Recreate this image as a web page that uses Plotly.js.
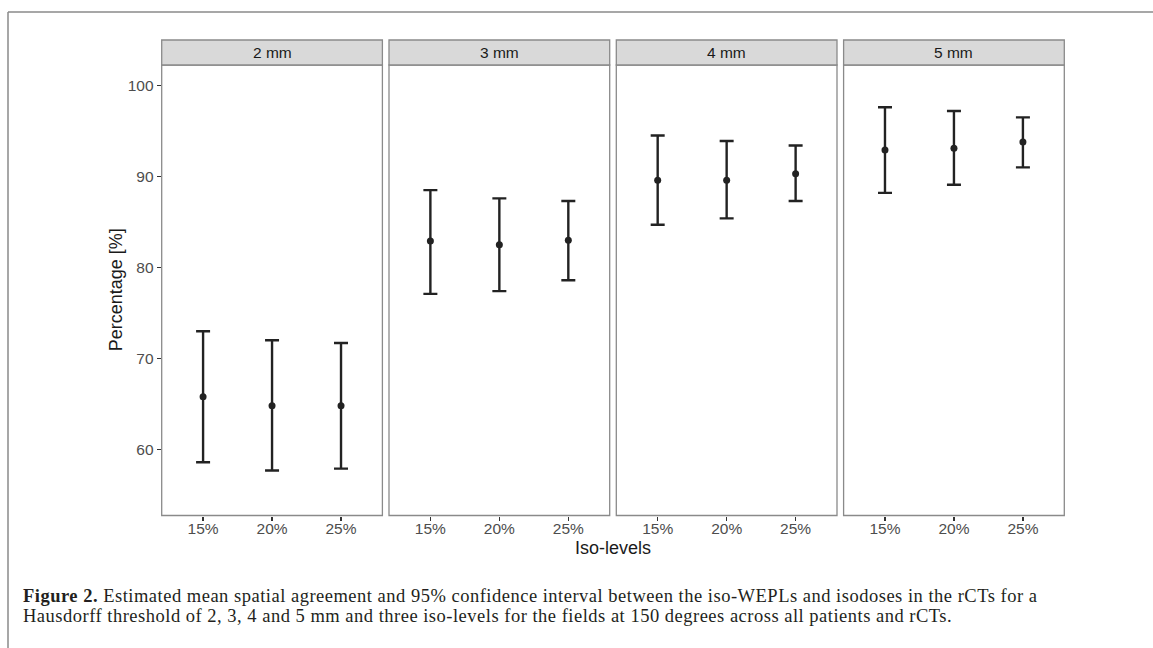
<!DOCTYPE html>
<html>
<head>
<meta charset="utf-8">
<script src="https://cdn.plot.ly/plotly-3.0.1.min.js"></script>
<style>
html,body{margin:0;padding:0;background:#fff;}
#chart{width:1153px;height:648px;}
</style>
</head>
<body>
<div id="chart"></div>
<script>
// ---- data ----
const panels = ["2 mm", "3 mm", "4 mm", "5 mm"];
const isoLevels = ["15%", "20%", "25%"];
const mean2mm = [65.8, 64.8, 64.8];
const lower2mm = [58.6, 57.7, 57.9];
const upper2mm = [73.0, 72.0, 71.7];
const mean3mm = [82.9, 82.5, 83.0];
const lower3mm = [77.1, 77.4, 78.6];
const upper3mm = [88.5, 87.6, 87.3];
const mean4mm = [89.6, 89.6, 90.3];
const lower4mm = [84.7, 85.4, 87.3];
const upper4mm = [94.5, 93.9, 93.4];
const mean5mm = [92.9, 93.1, 93.8];
const lower5mm = [88.2, 89.1, 91.0];
const upper5mm = [97.6, 97.2, 96.5];
const yTicks = [60, 70, 80, 90, 100];
const captionBold = "Figure 2.";
const captionLine1 = " Estimated mean spatial agreement and 95% confidence interval between the iso-WEPLs and isodoses in the rCTs for a";
const captionLine2 = "Hausdorff threshold of 2, 3, 4 and 5 mm and three iso-levels for the fields at 150 degrees across all patients and rCTs.";

const means = [mean2mm, mean3mm, mean4mm, mean5mm];
const lowers = [lower2mm, lower3mm, lower4mm, lower5mm];
const uppers = [upper2mm, upper3mm, upper4mm, upper5mm];

// ---- layout geometry (pixels) ----
const W = 1153, H = 648;
const panelLeft = [161.7, 389.0, 616.3, 843.6];
const panelW = 220.7;
const plotTop = 65, plotBottom = 515.5, stripTop = 40;
const px = v => v / W;
const py = v => 1 - v / H;

const barColor = "#222222";
const borderColor = "#8a8a8a";
const sans = "Liberation Sans, Arial, sans-serif";
const tickFont = {family: sans, size: 15.5, color: "#4d4d4d"};

const traces = panels.map((p, i) => ({
  type: "scatter",
  mode: "markers",
  x: isoLevels,
  y: means[i],
  xaxis: i === 0 ? "x" : "x" + (i + 1),
  yaxis: "y",
  marker: {color: barColor, size: 7},
  error_y: {
    type: "data",
    symmetric: false,
    array: uppers[i].map((u, k) => u - means[i][k]),
    arrayminus: lowers[i].map((l, k) => means[i][k] - l),
    color: barColor,
    thickness: 2.4,
    width: 7
  },
  showlegend: false,
  hoverinfo: "x+y"
}));

const layout = {
  width: W, height: H,
  margin: {l: 0, r: 0, t: 0, b: 0},
  paper_bgcolor: "#ffffff",
  plot_bgcolor: "#ffffff",
  showlegend: false,
  yaxis: {
    domain: [py(plotBottom), py(plotTop)],
    range: [52.75, 102.25],
    tickvals: yTicks,
    ticktext: yTicks.map(String),
    ticks: "outside", ticklen: 4, tickwidth: 1.2, tickcolor: "#333333",
    tickfont: tickFont,
    showgrid: false, zeroline: false, showline: false,
    anchor: "x"
  },
  shapes: [],
  annotations: []
};

panels.forEach((p, i) => {
  const key = i === 0 ? "xaxis" : "xaxis" + (i + 1);
  layout[key] = {
    domain: [px(panelLeft[i]), px(panelLeft[i] + panelW)],
    type: "category",
    categoryorder: "array",
    categoryarray: isoLevels,
    range: [-0.6, 2.6],
    anchor: "y",
    ticks: "outside", ticklen: 4, tickwidth: 1.2, tickcolor: "#333333",
    tickfont: tickFont,
    ticklabelstandoff: -5,
    showgrid: false, zeroline: false, showline: false,
    fixedrange: true
  };
  // panel border
  layout.shapes.push({
    type: "rect", xref: "paper", yref: "paper",
    x0: px(panelLeft[i]), x1: px(panelLeft[i] + panelW),
    y0: py(plotBottom), y1: py(plotTop),
    line: {color: borderColor, width: 1.3}, fillcolor: "rgba(0,0,0,0)", layer: "above"
  });
  // strip
  layout.shapes.push({
    type: "rect", xref: "paper", yref: "paper",
    x0: px(panelLeft[i]), x1: px(panelLeft[i] + panelW),
    y0: py(plotTop), y1: py(stripTop),
    line: {color: borderColor, width: 1.3}, fillcolor: "#d9d9d9"
  });
  layout.annotations.push({
    xref: "paper", yref: "paper",
    x: px(panelLeft[i] + panelW / 2), y: py((plotTop + stripTop) / 2),
    xanchor: "center", yanchor: "middle", showarrow: false,
    text: p,
    font: {family: sans, size: 15.5, color: "#1a1a1a"}
  });
});

// y axis title
layout.annotations.push({
  xref: "paper", yref: "paper",
  x: px(116), y: py((plotTop + plotBottom) / 2),
  xanchor: "center", yanchor: "middle", showarrow: false, textangle: -90,
  text: "Percentage [%]",
  font: {family: sans, size: 18, color: "#1a1a1a"}
});
// x axis common title
layout.annotations.push({
  xref: "paper", yref: "paper",
  x: px((panelLeft[0] + panelLeft[3] + panelW) / 2), y: py(548),
  xanchor: "center", yanchor: "middle", showarrow: false,
  text: "Iso-levels",
  font: {family: sans, size: 18, color: "#1a1a1a"}
});

// caption
const capFont = {family: "Liberation Serif, Times New Roman, serif", size: 18.5, color: "#231f20"};
const sp = s => '<span style="letter-spacing:0.5px">' + s + '</span>';
layout.annotations.push({
  xref: "paper", yref: "paper", x: px(21), y: py(596),
  xanchor: "left", yanchor: "middle", showarrow: false,
  text: sp("<b>" + captionBold + "</b>" + captionLine1), font: capFont
});
layout.annotations.push({
  xref: "paper", yref: "paper", x: px(21), y: py(616),
  xanchor: "left", yanchor: "middle", showarrow: false,
  text: sp(captionLine2), font: capFont
});

// figure frame (top and left lines)
layout.shapes.push({type: "line", xref: "paper", yref: "paper", x0: px(8), x1: 1, y0: py(12), y1: py(12), line: {color: "#8a8a8a", width: 1.5}});
layout.shapes.push({type: "line", xref: "paper", yref: "paper", x0: px(8), x1: px(8), y0: py(12), y1: 0, line: {color: "#8a8a8a", width: 1.5}});

Plotly.newPlot("chart", traces, layout, {displayModeBar: false, staticPlot: true});
</script>
</body>
</html>
